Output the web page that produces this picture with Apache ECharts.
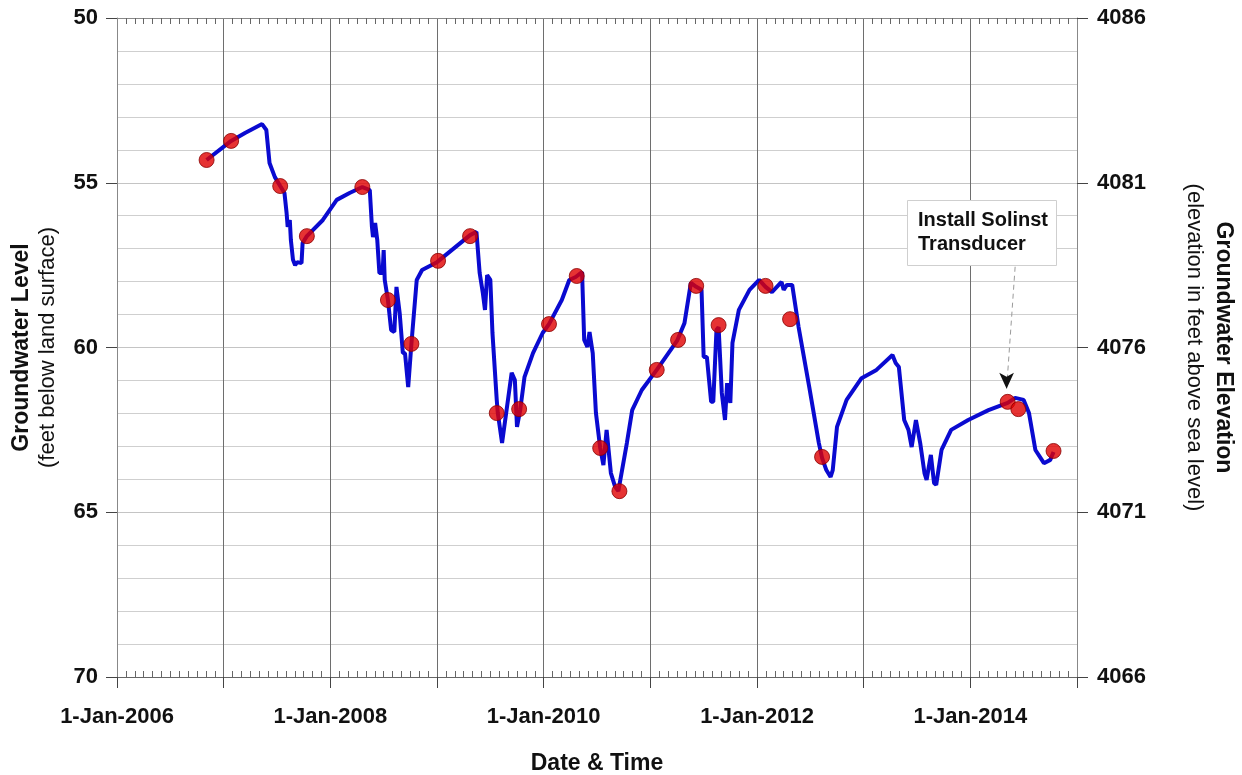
<!DOCTYPE html>
<html>
<head>
<meta charset="utf-8">
<script src="https://cdn.jsdelivr.net/npm/echarts@6/dist/echarts.min.js"></script>
<style>html,body{margin:0;padding:0;background:#fff}#chart{width:1242px;height:775px}</style>
</head>
<body>
<div id="chart"></div>
<script>
// Continuous transducer record: [decimal year, depth to water (ft below land surface)]
const levelYears = [2006.84,2007.07,2007.20,2007.36,2007.40,2007.43,2007.48,2007.53,2007.57,2007.59,2007.60,2007.62,2007.63,2007.65,2007.67,2007.69,2007.73,2007.74,2007.78,2007.93,2008.06,2008.18,2008.30,2008.37,2008.39,2008.40,2008.42,2008.44,2008.46,2008.49,2008.50,2008.51,2008.54,2008.57,2008.60,2008.62,2008.65,2008.68,2008.70,2008.73,2008.76,2008.81,2008.86,2009.00,2009.31,2009.37,2009.40,2009.43,2009.45,2009.47,2009.50,2009.52,2009.56,2009.57,2009.61,2009.70,2009.73,2009.75,2009.78,2009.82,2009.90,2009.99,2010.05,2010.17,2010.24,2010.30,2010.36,2010.38,2010.41,2010.43,2010.46,2010.49,2010.53,2010.56,2010.59,2010.63,2010.67,2010.70,2010.78,2010.83,2010.92,2011.06,2011.25,2011.32,2011.38,2011.43,2011.48,2011.50,2011.53,2011.57,2011.59,2011.62,2011.64,2011.67,2011.70,2011.72,2011.75,2011.77,2011.83,2011.93,2012.02,2012.08,2012.14,2012.23,2012.25,2012.28,2012.33,2012.39,2012.49,2012.58,2012.61,2012.65,2012.69,2012.71,2012.75,2012.84,2012.98,2013.12,2013.27,2013.30,2013.33,2013.38,2013.42,2013.45,2013.49,2013.53,2013.57,2013.59,2013.63,2013.66,2013.68,2013.73,2013.82,2013.98,2014.17,2014.35,2014.42,2014.50,2014.55,2014.61,2014.69,2014.75,2014.78];
const levelValues = [54.31,53.73,53.49,53.22,53.40,54.40,54.83,55.10,55.31,55.92,56.34,56.13,56.74,57.34,57.50,57.41,57.44,56.83,56.62,56.13,55.52,55.31,55.13,55.22,56.34,56.65,56.22,56.74,57.74,57.74,57.04,57.95,58.56,59.47,59.53,58.16,58.95,60.17,60.17,61.20,59.89,57.95,57.65,57.41,56.59,56.49,57.74,58.35,58.86,57.80,57.95,59.56,61.59,61.99,62.90,60.77,60.99,62.41,61.90,60.90,60.17,59.56,59.29,58.56,57.95,57.86,57.71,59.77,59.98,59.53,60.17,61.99,63.05,63.57,62.50,63.81,64.23,64.36,62.90,61.90,61.29,60.68,59.80,59.26,58.04,58.16,58.25,60.29,60.29,61.65,61.65,59.47,59.38,61.38,62.20,61.08,61.68,59.86,58.86,58.25,57.95,58.16,58.32,58.01,58.25,58.10,58.10,59.38,61.20,62.90,63.35,63.72,63.93,63.72,62.41,61.59,60.93,60.68,60.23,60.47,60.59,62.20,62.50,63.02,62.20,62.90,63.81,64.02,63.26,64.11,64.17,63.11,62.50,62.20,61.90,61.68,61.53,61.59,61.99,63.11,63.51,63.41,63.17];

// Manual measurements (red dots)
const manualYears = [2006.84,2007.07,2007.53,2007.78,2008.30,2008.54,2008.76,2009.01,2009.31,2009.56,2009.77,2010.05,2010.31,2010.53,2010.71,2011.06,2011.26,2011.43,2011.64,2012.08,2012.31,2012.61,2014.35,2014.45,2014.78];
const manualValues = [54.31,53.73,55.10,56.62,55.13,58.56,59.89,57.37,56.62,61.99,61.87,59.29,57.83,63.05,64.36,60.68,59.77,58.13,59.32,58.13,59.14,63.32,61.65,61.87,63.14];

const landSurfaceElevation = 4136; // elevation = 4136 - depth
const annotationText = ['Install Solinst', 'Transducer'];
const annotationFrom = [2014.42, 57.55];
const annotationTo = [2014.34, 61.25];

const FONT = "'Liberation Sans', Arial, sans-serif";
const lineData = levelYears.map((y, i) => [y, levelValues[i]]);
const dotData = manualYears.map((y, i) => [y, manualValues[i]]);

const chart = echarts.init(document.getElementById('chart'));
const xCommon = { type: 'value', min: 2006, max: 2015, interval: 1 };
chart.setOption({
  animation: false,
  backgroundColor: '#fff',
  grid: { left: 117, right: 165, top: 18, bottom: 98, containLabel: false, outerBoundsMode: 'none' },
  xAxis: [
    Object.assign({}, xCommon, {
      position: 'bottom',
      name: 'Date & Time', nameLocation: 'middle', nameGap: 75,
      nameTextStyle: { fontFamily: FONT, fontWeight: 'bold', fontSize: 23, color: '#111' },
      axisLine: { show: true, lineStyle: { color: '#666', width: 1 } },
      axisTick: { show: true, length: 11, inside: false, lineStyle: { color: '#444' } },
      axisLabel: { margin: 29, fontFamily: FONT, fontWeight: 'bold', fontSize: 22, color: '#111',
        formatter: v => (Math.round(v) % 2 === 0 ? '1-Jan-' + Math.round(v) : ''), showMinLabel: true, showMaxLabel: true },
      splitLine: { show: true, lineStyle: { color: '#6e6e6e', width: 1 } }
    }),
    Object.assign({}, xCommon, {
      position: 'bottom',
      axisLine: { show: false }, axisLabel: { show: false }, splitLine: { show: false },
      axisTick: { show: false, inside: true },
      minorTick: { show: true, splitNumber: 12, length: 6, lineStyle: { color: '#666' } }
    }),
    Object.assign({}, xCommon, {
      position: 'top',
      axisLine: { show: true, lineStyle: { color: '#888' } }, axisLabel: { show: false }, splitLine: { show: false },
      axisTick: { show: false, inside: true },
      minorTick: { show: true, splitNumber: 12, length: 6, lineStyle: { color: '#666' } }
    })
  ],
  yAxis: [
    {
      type: 'value', inverse: true, min: 50, max: 70, interval: 5, position: 'left',
      name: '{b|Groundwater Level}\n{n|(feet below land surface)}',
      nameLocation: 'middle', nameRotate: 90, nameGap: 56,
      nameTextStyle: { rich: {
        b: { fontFamily: FONT, fontWeight: 'bold', fontSize: 23, color: '#111', lineHeight: 26 },
        n: { fontFamily: FONT, fontSize: 22, color: '#111', lineHeight: 26 } } },
      axisLine: { show: true, lineStyle: { color: '#888' } },
      axisTick: { show: true, length: 11, lineStyle: { color: '#444' } },
      axisLabel: { margin: 19, fontFamily: FONT, fontWeight: 'bold', fontSize: 22, color: '#111' },
      splitLine: { show: true, lineStyle: { color: '#c4c4c4' } },
      minorTick: { show: false, splitNumber: 5 },
      minorSplitLine: { show: true, lineStyle: { color: '#cfcfcf' } }
    },
    {
      type: 'value', min: landSurfaceElevation - 70, max: landSurfaceElevation - 50, interval: 5, position: 'right',
      name: '{b|Groundwater Elevation}\n{n|(elevation in feet above sea level)}',
      nameLocation: 'middle', nameRotate: -90, nameGap: 103,
      nameTextStyle: { rich: {
        b: { fontFamily: FONT, fontWeight: 'bold', fontSize: 23, color: '#111', lineHeight: 29 },
        n: { fontFamily: FONT, fontSize: 22, color: '#111', lineHeight: 29 } } },
      axisLine: { show: true, lineStyle: { color: '#888' } },
      axisTick: { show: true, length: 11, lineStyle: { color: '#444' } },
      axisLabel: { margin: 20, fontFamily: FONT, fontWeight: 'bold', fontSize: 22, color: '#111',
        formatter: v => String(v) },
      splitLine: { show: false }
    }
  ],
  series: [
    {
      type: 'line', name: 'Transducer', data: lineData, xAxisIndex: 0, yAxisIndex: 0,
      showSymbol: false, symbol: 'none',
      lineStyle: { color: '#0a0ad0', width: 4 }, z: 3,
      markLine: {
        silent: true, symbol: ['none', 'none'],
        lineStyle: { type: [5, 4], color: '#9a9a9a', width: 1 },
        label: { show: false },
        data: [[{ coord: annotationFrom }, { coord: annotationTo }]]
      },
      markPoint: {
        silent: true,
        symbol: 'arrow', symbolSize: [11, 16], symbolRotate: 180, symbolOffset: [0, 0],
        itemStyle: { color: '#111' }, label: { show: false },
        data: [{ coord: annotationTo }]
      }
    },
    {
      type: 'scatter', name: 'Manual', data: dotData, xAxisIndex: 0, yAxisIndex: 0,
      symbol: 'circle', symbolSize: 15,
      itemStyle: { color: '#e00000', borderColor: '#8a0000', borderWidth: 1 }, z: 5
    }
  ],
  graphic: [
    { type: 'rect', left: 907, top: 200, z: 100, zlevel: 1,
      shape: { x: 0, y: 0, width: 149, height: 65 },
      style: { fill: '#fff', stroke: '#cfcfcf', lineWidth: 1 } },
    { type: 'text', left: 918, top: 208, z: 101, zlevel: 1,
      style: { text: annotationText.join('\n'), font: "bold 20px 'Liberation Sans', Arial, sans-serif",
        fill: '#111', lineHeight: 24 } }
  ]
});
</script>
</body>
</html>
